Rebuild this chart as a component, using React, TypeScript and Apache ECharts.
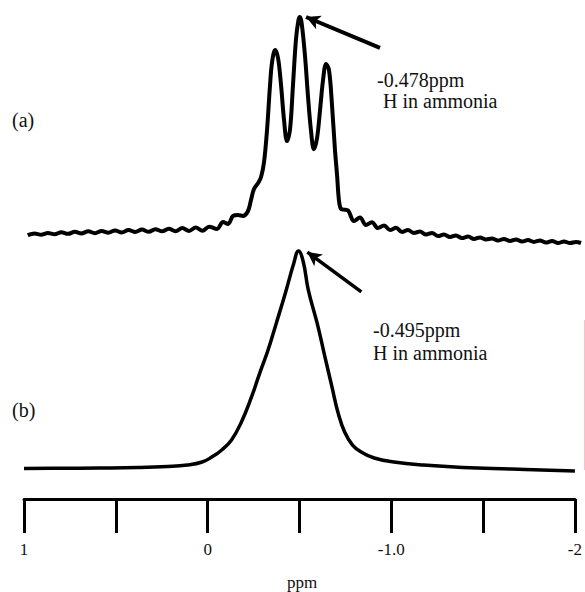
import React, { useEffect, useRef } from "react";
import * as echarts from "echarts";

// x axis (ppm, reversed)
const xMin = -2;
const xMax = 1;
const xStep = 0.5;
const tickLabels: Record<string, string> = { "1": "1", "0": "0", "-1": "-1.0", "-2": "-2" };
const axisName = "ppm";

// Spectrum (a) — relative intensity vs ppm
const specAPpm = [
  0.98, 0.944, 0.908, 0.872, 0.836, 0.8, 0.764, 0.728, 0.692, 0.656, 0.62, 0.584, 0.548, 0.512,
  0.476, 0.44, 0.404, 0.368, 0.332, 0.296, 0.26, 0.224, 0.188, 0.152, 0.116, 0.08, 0.044, 0.008,
  -0.034, -0.066, -0.093, -0.12, -0.146, -0.173, -0.2, -0.216, -0.232, -0.254, -0.27, -0.286,
  -0.302, -0.318, -0.329, -0.345, -0.361, -0.377, -0.393, -0.409, -0.425, -0.441, -0.457, -0.47,
  -0.478, -0.487, -0.505, -0.521, -0.537, -0.553, -0.57, -0.586, -0.602, -0.618, -0.634, -0.65,
  -0.666, -0.677, -0.687, -0.698, -0.714, -0.736, -0.768, -0.8, -0.832, -0.864, -0.896, -0.929,
  -0.961, -0.993, -1.025, -1.057, -1.089, -1.121, -1.154, -1.186, -1.218, -1.25, -1.282, -1.314,
  -1.346, -1.379, -1.411, -1.443, -1.475, -1.507, -1.539, -1.571, -1.604, -1.636, -1.668, -1.7,
  -1.732, -1.764, -1.796, -1.829, -1.861, -1.893, -1.925, -1.957, -1.984,
];
const specAInt = [
  2.6, 3.4, 2.8, 3.6, 3.0, 3.9, 3.2, 4.1, 3.4, 4.3, 3.5, 4.5, 3.7, 4.7,
  3.8, 4.9, 4.0, 5.1, 4.1, 5.3, 4.3, 5.5, 4.4, 5.8, 4.5, 6.0, 4.6, 6.4,
  5.4, 8.5, 7.6, 11.2, 11.6, 11.2, 13.4, 18.3, 23.2, 25.9, 28.6, 35.3,
  49.6, 69.6, 79.9, 85.3, 81.7, 69.6, 54.0, 44.6, 49.6, 69.6, 90.0, 98.5,
  100, 97.5, 83, 65, 49.6, 41, 46, 58.5, 71.9, 79, 76.3, 60.7,
  40.6, 29.5, 18.3, 14.3, 14.0, 13.6, 8.9, 10.5, 7.1, 8.4, 5.8, 6.9,
  4.9, 5.9, 4.0, 4.9, 3.6, 4.2, 2.9, 3.6, 2.2, 2.9, 1.8, 2.5,
  1.3, 2.0, 0.9, 1.6, 0.7, 1.1, 0.2, 0.9, 0.0, 0.7, -0.2, 0.4,
  -0.4, 0.2, -0.7, 0.0, -0.9, -0.2, -0.9, -0.4, -0.9,
];

// Spectrum (b) — relative intensity vs ppm
const specBPpm = [
  1.0, 0.807, 0.593, 0.379, 0.218, 0.111, 0.03, -0.023, -0.077, -0.13, -0.184, -0.237, -0.28,
  -0.329, -0.371, -0.425, -0.468, -0.495, -0.521, -0.548, -0.596, -0.639, -0.677, -0.709,
  -0.746, -0.789, -0.837, -0.907, -1.014, -1.175, -1.389, -1.657, -2.0,
];
const specBInt = [
  1.14, 1.23, 1.36, 1.59, 2.05, 2.73, 4.09, 6.36, 9.55, 14.1, 22.3, 33.2, 43.6,
  55.0, 66.4, 81.4, 94.1, 100, 95.0, 82.3, 67.3, 51.8, 38.2, 26.8,
  17.7, 11.8, 8.6, 5.9, 4.1, 2.7, 1.6, 0.9, 0,
];

// Annotation arrows: [tail, head] in (ppm, intensity)
const arrowA = [[-0.907, 86.2], [-0.511, 100]];
const arrowB = [[-0.837, 81.4], [-0.543, 99.5]];
const annotA = ["-0.478ppm", " H in ammonia"];
const annotB = ["-0.495ppm", "H in ammonia"];
const panelLabels = ["(a)", "(b)"];

const FONT = '"Liberation Serif", "Times New Roman", serif';

function zip(xs: number[], ys: number[]) {
  return xs.map((x, i) => [x, ys[i]]);
}

export default function App() {
  const ref = useRef<HTMLDivElement>(null);
  useEffect(() => {
    if (!ref.current) return;
    const chart = echarts.init(ref.current, null, { renderer: "svg" });
    const txt = (text: string, x: number, y: number, size: number, align = "left") => ({
      type: "text",
      x,
      y,
      silent: true,
      style: {
        text,
        fill: "#111",
        fontSize: size,
        fontFamily: FONT,
        verticalAlign: "middle",
        align,
      },
    });
    const arrowLine = (arr: number[][], w: number) => ({
      silent: true,
      symbol: ["none", "arrow"],
      symbolSize: [11, 14],
      label: { show: false },
      lineStyle: { color: "#000", width: w, type: "solid" },
      emphasis: { disabled: true },
      data: [[{ coord: arr[0] }, { coord: arr[1] }]],
    });
    chart.setOption({
      animation: false,
      backgroundColor: "#fff",
      grid: [
        { left: 24, right: 1, top: 17, height: 246.4 },
        { left: 24, right: 1, top: 251, height: 242 },
      ],
      xAxis: [
        {
          gridIndex: 0,
          type: "value",
          min: xMin,
          max: xMax,
          interval: xStep,
          inverse: true,
          show: false,
        },
        {
          gridIndex: 1,
          type: "value",
          min: xMin,
          max: xMax,
          interval: xStep,
          inverse: true,
          offset: 6,
          axisLine: { show: true, onZero: false, lineStyle: { color: "#000", width: 3 } },
          axisTick: { show: true, inside: false, length: 34, lineStyle: { color: "#000", width: 3 } },
          splitLine: { show: false },
          axisLabel: {
            margin: 42,
            fontFamily: FONT,
            fontSize: 17,
            color: "#111",
            showMinLabel: true,
            showMaxLabel: true,
            formatter: (v: number) => tickLabels[String(v)] ?? "",
          },
        },
      ],
      yAxis: [
        { gridIndex: 0, type: "value", min: -10, max: 100, show: false },
        { gridIndex: 1, type: "value", min: -10, max: 100, show: false },
      ],
      series: [
        {
          type: "line",
          xAxisIndex: 0,
          yAxisIndex: 0,
          data: zip(specAPpm, specAInt),
          smooth: 0.35,
          symbol: "none",
          clip: false,
          lineStyle: { color: "#000", width: 4 },
          markLine: arrowLine(arrowA, 4),
        },
        {
          type: "line",
          xAxisIndex: 1,
          yAxisIndex: 1,
          data: zip(specBPpm, specBInt),
          smooth: 0.45,
          symbol: "none",
          clip: false,
          lineStyle: { color: "#000", width: 3.5 },
          markLine: arrowLine(arrowB, 3.5),
        },
      ],
      graphic: [
        txt(panelLabels[0], 12, 120, 20),
        txt(panelLabels[1], 12, 410, 20),
        txt(annotA[0], 377, 80, 20),
        txt(annotA[1], 378, 101, 20),
        txt(annotB[0], 373, 330, 20),
        txt(annotB[1], 373, 353, 20),
        txt(axisName, 302, 582, 17, "center"),
        {
          type: "line",
          silent: true,
          shape: { x1: 584.5, y1: 320, x2: 584.5, y2: 470 },
          style: { stroke: "#f3c4cc", lineWidth: 1 },
        },
      ],
    });
    return () => chart.dispose();
  }, []);
  return (
    <div
      ref={ref}
      style={{ position: "fixed", left: 0, top: 0, width: 585, height: 592, background: "#fff" }}
    />
  );
}
